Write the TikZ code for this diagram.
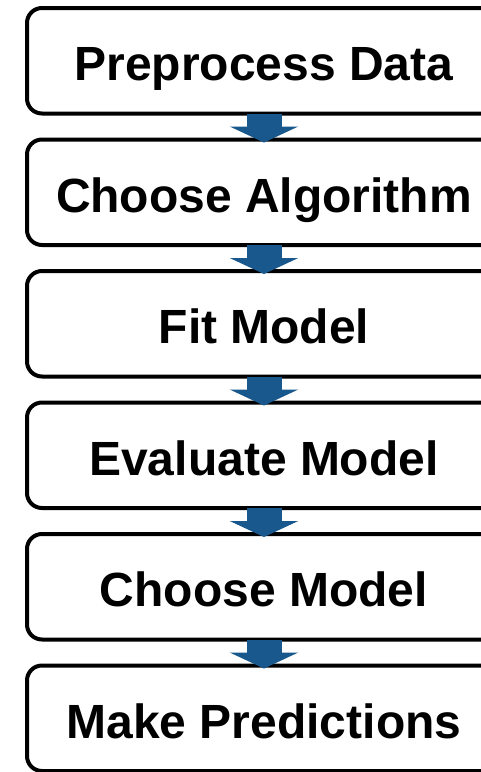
\documentclass[tikz,border=0pt]{standalone}
\usepackage{fontspec}
\setmainfont{Liberation Sans}
\usetikzlibrary{positioning, arrows.meta}
\definecolor{stepblue}{RGB}{24,88,140}
\begin{document}
\begin{tikzpicture}[x=1pt, y=1pt, font=\fontsize{48}{57}\selectfont\bfseries,
  flowbox/.style={draw, line width=4pt, rounded corners=15pt, fill=white, inner sep=0pt, outer sep=0pt,
    minimum width=474pt, text height=72.5pt, text depth=33pt},
  flowarrow/.style={stepblue, line width=35pt, -{Triangle[width=68pt, length=16pt]}}]
  \useasboundingbox (0,0) rectangle (481,-772);
  % workflow steps
  \node[flowbox, anchor=north] (prep) at (264,-8) {Preprocess Data};
  \node[flowbox, below=26pt of prep] (algo) {Choose Algorithm};
  \node[flowbox, below=26pt of algo] (fit) {Fit Model};
  \node[flowbox, below=26pt of fit] (eval) {Evaluate Model};
  \node[flowbox, below=26pt of eval] (choose) {Choose Model};
  \node[flowbox, below=26pt of choose] (predict) {Make Predictions};
  % block arrows between steps
  \foreach \a/\b in {prep/algo, algo/fit, fit/eval, eval/choose, choose/predict}
    {\draw[flowarrow] (\a.south) -- ([yshift=-3pt]\b.north);}
\end{tikzpicture}
\end{document}
